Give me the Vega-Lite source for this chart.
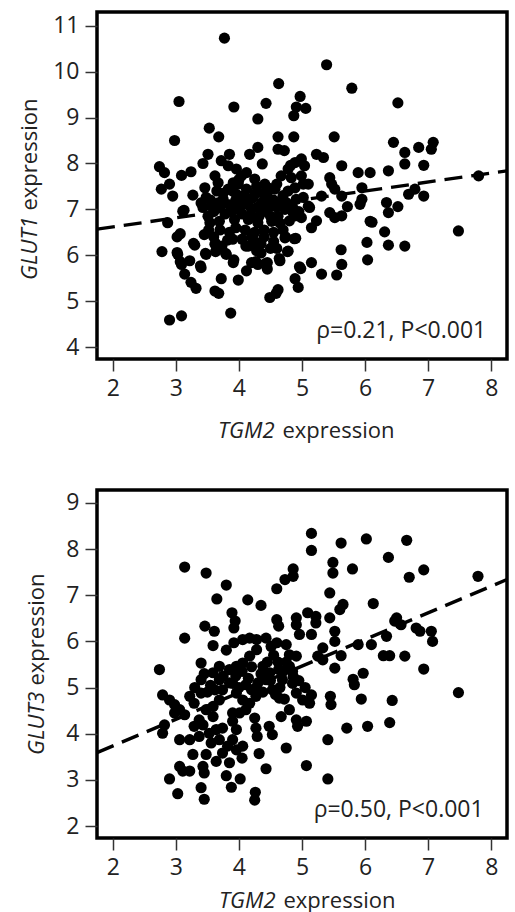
{
"$schema": "https://vega.github.io/schema/vega-lite/v6.json",
"padding": {"left": 16, "top": 10, "right": 8, "bottom": 0},
"spacing": 45,
"config": {
  "font": "Open Sans",
  "view": {"stroke": "black", "strokeWidth": 3.5},
  "axis": {"grid": false, "domain": false, "tickSize": 12, "tickWidth": 1.5, "tickColor": "#333", "labelFontSize": 23, "labelColor": "#222", "titleFontSize": 22, "titleFontWeight": "normal", "titleColor": "#222", "labelPadding": 6, "titleBaseline": "alphabetic"}
},
"datasets": {
"top": [
{"x":3.77,"y":10.73},{"x":5.39,"y":10.15},{"x":4.63,"y":9.74},{"x":5.79,"y":9.64},{"x":3.05,"y":9.35},{"x":6.52,"y":9.32},{"x":3.92,"y":9.23},{"x":4.43,"y":9.31},{"x":4.97,"y":9.46},{"x":4.91,"y":9.23},{"x":5.06,"y":9.2},{"x":4.87,"y":9.04},{"x":4.30,"y":8.97},{"x":3.53,"y":8.77},{"x":3.68,"y":8.58},{"x":2.98,"y":8.5},{"x":4.62,"y":8.58},{"x":4.87,"y":8.58},{"x":5.51,"y":8.58},{"x":6.45,"y":8.46},{"x":7.08,"y":8.46},{"x":6.85,"y":8.35},{"x":6.63,"y":8.24},{"x":7.05,"y":8.31},{"x":4.30,"y":8.35},{"x":4.62,"y":8.31},{"x":4.72,"y":8.28},{"x":3.85,"y":8.2},{"x":4.17,"y":8.2},{"x":5.23,"y":8.2},{"x":5.34,"y":8.13},{"x":3.51,"y":8.2},{"x":3.43,"y":8.0},{"x":3.72,"y":8.06},{"x":3.83,"y":7.95},{"x":3.96,"y":7.88},{"x":4.12,"y":7.8},{"x":4.37,"y":7.99},{"x":4.82,"y":7.96},{"x":4.99,"y":8.1},{"x":5.04,"y":7.95},{"x":5.63,"y":7.95},{"x":5.89,"y":7.8},{"x":6.08,"y":7.8},{"x":6.37,"y":7.84},{"x":6.63,"y":7.99},{"x":6.93,"y":7.96},{"x":2.74,"y":7.93},{"x":2.82,"y":7.8},{"x":3.09,"y":7.74},{"x":3.24,"y":7.82},{"x":2.77,"y":7.44},{"x":2.9,"y":7.55},{"x":2.95,"y":7.29},{"x":3.27,"y":7.31},{"x":3.11,"y":6.96},{"x":2.87,"y":6.71},{"x":7.8,"y":7.73},{"x":5.44,"y":7.69},{"x":5.47,"y":7.55},{"x":5.52,"y":7.44},{"x":5.31,"y":7.29},{"x":5.63,"y":7.29},{"x":5.95,"y":7.47},{"x":5.95,"y":7.22},{"x":6.34,"y":7.15},{"x":6.69,"y":7.33},{"x":6.79,"y":7.44},{"x":6.93,"y":7.29},{"x":6.37,"y":6.93},{"x":6.08,"y":6.74},{"x":6.31,"y":6.51},{"x":7.48,"y":6.53},{"x":2.9,"y":4.59},{"x":3.09,"y":4.68},{"x":3.87,"y":4.74},{"x":2.78,"y":6.08},{"x":3.03,"y":6.02},{"x":3.09,"y":5.8},{"x":3.22,"y":5.88},{"x":3.14,"y":5.59},{"x":3.24,"y":5.41},{"x":3.32,"y":5.28},{"x":3.4,"y":5.73},{"x":3.3,"y":6.22},{"x":3.48,"y":6.02},{"x":3.62,"y":6.24},{"x":3.72,"y":5.49},{"x":3.62,"y":5.22},{"x":3.68,"y":5.17},{"x":3.99,"y":5.46},{"x":4.12,"y":5.66},{"x":3.8,"y":6.02},{"x":3.91,"y":5.84},{"x":4.11,"y":6.2},{"x":4.2,"y":5.84},{"x":4.3,"y":5.8},{"x":4.45,"y":5.7},{"x":4.45,"y":5.84},{"x":4.49,"y":5.08},{"x":4.59,"y":5.17},{"x":4.62,"y":5.25},{"x":4.65,"y":5.88},{"x":4.78,"y":6.09},{"x":4.89,"y":5.49},{"x":4.94,"y":5.3},{"x":4.98,"y":5.71},{"x":5.15,"y":5.84},{"x":5.31,"y":5.59},{"x":5.55,"y":5.57},{"x":5.63,"y":5.8},{"x":5.62,"y":6.12},{"x":6.03,"y":6.28},{"x":6.04,"y":5.9},{"x":6.37,"y":6.22},{"x":6.63,"y":6.2},{"x":6.11,"y":6.72},{"x":6.52,"y":7.06},{"x":5.15,"y":6.6},{"x":5.23,"y":6.75},{"x":5.44,"y":6.93},{"x":5.52,"y":6.82},{"x":5.63,"y":6.86},{"x":5.72,"y":7.06},{"x":5.92,"y":7.11},{"x":4.73,"y":6.38},{"x":4.88,"y":6.36},{"x":5.12,"y":7.04},{"x":4.89,"y":6.86},{"x":4.99,"y":6.82},{"x":3.13,"y":6.98},{"x":3.07,"y":6.47},{"x":3.02,"y":6.4},{"x":3.28,"y":6.26},{"x":3.02,"y":6.06},{"x":3.07,"y":5.86},{"x":3.39,"y":5.77},{"x":3.47,"y":6.04},{"x":3.63,"y":6.26},{"x":3.63,"y":6.08},{"x":3.79,"y":6.04},{"x":3.82,"y":6.33},{"x":3.92,"y":5.9},{"x":4.27,"y":5.86},{"x":4.42,"y":5.82},{"x":4.64,"y":5.93},{"x":4.77,"y":6.08},{"x":4.74,"y":6.4},{"x":4.9,"y":6.37},{"x":4.96,"y":5.75},{"x":4.28,"y":6.1},{"x":4.35,"y":6.25},{"x":4.5,"y":6.15},{"x":4.55,"y":6.3},{"x":4.2,"y":6.4},
{"x":3.46,"y":7.47},{"x":3.48,"y":7.26},{"x":3.56,"y":7.07},{"x":3.43,"y":7.04},{"x":3.67,"y":7.14},{"x":3.75,"y":7.22},{"x":3.83,"y":7.44},{"x":3.91,"y":7.58},{"x":3.99,"y":7.55},{"x":3.96,"y":7.33},{"x":4.04,"y":7.14},{"x":4.12,"y":7.44},{"x":4.25,"y":7.33},{"x":4.2,"y":7.0},{"x":4.36,"y":7.14},{"x":4.41,"y":6.96},{"x":4.46,"y":7.26},{"x":4.57,"y":7.44},{"x":4.6,"y":7.55},{"x":4.78,"y":7.4},{"x":4.83,"y":7.69},{"x":4.89,"y":7.47},{"x":4.91,"y":7.22},{"x":5.02,"y":7.26},{"x":5.1,"y":7.55},{"x":5.1,"y":7.07},{"x":4.86,"y":6.93},{"x":4.73,"y":7.0},{"x":4.62,"y":6.85},{"x":4.52,"y":6.74},{"x":4.3,"y":6.71},{"x":4.15,"y":6.78},{"x":3.93,"y":6.78},{"x":3.69,"y":6.74},{"x":3.54,"y":6.71},{"x":3.51,"y":6.85},{"x":3.4,"y":7.14},{"x":3.62,"y":7.73},{"x":3.67,"y":7.58},{"x":4.04,"y":7.73},{"x":4.25,"y":7.66},{"x":4.41,"y":7.55},{"x":4.67,"y":7.73},{"x":4.78,"y":7.88},{"x":4.89,"y":8.02},{"x":4.99,"y":7.73},{"x":5.02,"y":7.55},{"x":4.67,"y":7.14},{"x":4.52,"y":7.07},
{"x":3.55,"y":7.2},{"x":3.6,"y":6.95},{"x":3.7,"y":7.05},{"x":3.78,"y":6.9},{"x":3.85,"y":7.1},{"x":3.88,"y":6.95},{"x":3.95,"y":7.2},{"x":3.98,"y":7.0},{"x":4.05,"y":6.9},{"x":4.08,"y":7.3},{"x":4.15,"y":7.15},{"x":4.18,"y":6.85},{"x":4.22,"y":7.25},{"x":4.3,"y":7.05},{"x":4.32,"y":6.85},{"x":4.38,"y":7.35},{"x":4.42,"y":7.2},{"x":4.48,"y":7.05},{"x":4.5,"y":6.85},{"x":4.55,"y":7.2},{"x":4.6,"y":7.05},{"x":4.65,"y":6.7},{"x":4.7,"y":7.3},{"x":4.75,"y":7.15},{"x":4.8,"y":6.75},{"x":4.85,"y":7.05},{"x":4.95,"y":6.95},{"x":3.75,"y":7.35},{"x":3.65,"y":7.4},{"x":3.9,"y":7.4},{"x":4.0,"y":7.65},{"x":4.28,"y":7.5},{"x":4.5,"y":7.45},{"x":3.52,"y":6.55},{"x":3.7,"y":6.55},{"x":3.85,"y":6.5},{"x":3.95,"y":6.6},{"x":4.1,"y":6.55},{"x":4.25,"y":6.5},{"x":4.4,"y":6.55},{"x":4.55,"y":6.5},{"x":4.7,"y":6.55},{"x":3.45,"y":6.45},{"x":3.6,"y":6.4},{"x":3.9,"y":6.35},{"x":4.05,"y":6.35},{"x":4.15,"y":6.2},{"x":4.35,"y":6.05},{"x":4.6,"y":6.15},{"x":4.4,"y":6.4},{"x":4.25,"y":6.3},{"x":3.73,"y":6.2}
],
"bottom": [
{"x":5.15,"y":8.34},{"x":5.15,"y":7.97},{"x":5.62,"y":8.13},{"x":6.02,"y":8.22},{"x":6.66,"y":8.19},{"x":6.37,"y":7.82},{"x":3.14,"y":7.61},{"x":3.48,"y":7.48},{"x":3.8,"y":7.22},{"x":5.49,"y":7.71},{"x":5.49,"y":7.48},{"x":5.8,"y":7.57},{"x":6.93,"y":7.55},{"x":6.7,"y":7.39},{"x":7.79,"y":7.41},{"x":4.86,"y":7.57},{"x":4.73,"y":7.34},{"x":4.86,"y":7.41},{"x":4.6,"y":7.14},{"x":5.44,"y":7.05},{"x":4.14,"y":6.9},{"x":4.35,"y":6.78},{"x":3.65,"y":6.92},{"x":3.89,"y":6.62},{"x":3.94,"y":6.44},{"x":3.92,"y":6.29},{"x":3.46,"y":6.33},{"x":3.61,"y":6.22},{"x":3.14,"y":6.07},{"x":3.59,"y":5.91},{"x":3.8,"y":5.81},{"x":3.92,"y":5.97},{"x":5.65,"y":6.8},{"x":5.6,"y":6.69},{"x":6.13,"y":6.82},{"x":4.6,"y":6.47},{"x":4.63,"y":6.33},{"x":4.91,"y":6.51},{"x":4.91,"y":6.36},{"x":5.09,"y":6.62},{"x":5.22,"y":6.54},{"x":5.22,"y":6.4},{"x":4.96,"y":6.15},{"x":5.15,"y":6.15},{"x":5.44,"y":6.51},{"x":5.52,"y":6.22},{"x":5.52,"y":6.0},{"x":6.5,"y":6.51},{"x":6.47,"y":6.44},{"x":6.57,"y":6.36},{"x":6.81,"y":6.29},{"x":6.87,"y":6.22},{"x":7.05,"y":6.22},{"x":7.07,"y":6.0},{"x":6.34,"y":6.11},{"x":6.1,"y":5.93},{"x":5.89,"y":5.93},{"x":6.29,"y":5.69},{"x":6.39,"y":5.69},{"x":6.63,"y":5.68},{"x":6.93,"y":5.4},{"x":5.62,"y":5.69},{"x":5.33,"y":5.86},{"x":5.25,"y":5.68},{"x":5.33,"y":5.6},{"x":5.52,"y":5.42},{"x":5.81,"y":5.18},{"x":5.97,"y":5.31},{"x":5.83,"y":5.06},{"x":4.06,"y":6.04},{"x":4.17,"y":6.07},{"x":4.28,"y":6.04},{"x":4.43,"y":6.07},{"x":4.51,"y":5.89},{"x":4.6,"y":5.97},{"x":4.75,"y":5.93},{"x":4.8,"y":5.71},{"x":4.91,"y":5.68},{"x":4.28,"y":5.82},{"x":4.17,"y":5.68},{"x":4.06,"y":5.53},{"x":3.96,"y":5.46},{"x":3.85,"y":5.39},{"x":3.69,"y":5.46},{"x":3.59,"y":5.32},{"x":3.4,"y":5.53},{"x":3.4,"y":5.17},{"x":2.74,"y":5.39},{"x":4.38,"y":5.46},{"x":4.49,"y":5.32},{"x":4.63,"y":5.39},{"x":4.8,"y":5.46},{"x":4.86,"y":5.24},
{"x":2.79,"y":4.84},{"x":2.9,"y":4.73},{"x":2.98,"y":4.63},{"x":3.06,"y":4.52},{"x":3.14,"y":4.41},{"x":2.82,"y":4.19},{"x":2.79,"y":4.01},{"x":2.98,"y":4.45},{"x":3.22,"y":4.81},{"x":3.29,"y":4.66},{"x":3.4,"y":4.88},{"x":3.48,"y":4.52},{"x":3.59,"y":4.37},{"x":3.43,"y":4.19},{"x":3.29,"y":4.16},{"x":3.06,"y":3.87},{"x":3.22,"y":3.87},{"x":3.37,"y":3.94},{"x":3.53,"y":4.01},{"x":3.37,"y":4.3},{"x":3.56,"y":3.8},{"x":3.27,"y":3.55},{"x":3.48,"y":3.55},{"x":3.64,"y":3.4},{"x":3.74,"y":3.58},{"x":3.85,"y":3.37},{"x":3.43,"y":3.29},{"x":3.06,"y":3.29},{"x":3.11,"y":3.19},{"x":3.22,"y":3.19},{"x":3.45,"y":3.15},{"x":2.9,"y":3.02},{"x":3.03,"y":2.7},{"x":3.4,"y":2.83},{"x":3.45,"y":2.58},{"x":3.8,"y":3.09},{"x":4.02,"y":3.02},{"x":3.88,"y":2.84},{"x":4.26,"y":2.73},{"x":4.25,"y":2.56},{"x":4.43,"y":3.24},{"x":4.32,"y":3.57},{"x":4.05,"y":3.47},{"x":4.75,"y":3.69},{"x":5.07,"y":3.31},{"x":5.41,"y":3.02},{"x":5.41,"y":3.87},{"x":5.71,"y":4.12},{"x":6.04,"y":4.16},{"x":6.39,"y":4.24},{"x":6.43,"y":4.72},{"x":5.94,"y":4.75},{"x":7.48,"y":4.89},{"x":5.45,"y":4.81},{"x":5.46,"y":4.63},{"x":5.12,"y":4.66},{"x":5.15,"y":4.84},{"x":5.07,"y":4.27},{"x":4.93,"y":4.16},{"x":4.91,"y":4.3},{"x":4.8,"y":4.52},{"x":4.64,"y":4.77},{"x":4.67,"y":4.37},{"x":4.48,"y":4.16},{"x":4.53,"y":3.98},{"x":4.29,"y":3.94},{"x":4.27,"y":4.12},{"x":4.25,"y":4.34},{"x":4.11,"y":4.52},{"x":4.01,"y":4.45},{"x":3.9,"y":4.45},{"x":3.9,"y":4.27},{"x":3.96,"y":4.09},{"x":3.9,"y":3.87},{"x":3.82,"y":3.73},{"x":3.96,"y":3.65},{"x":4.06,"y":3.73},{"x":3.69,"y":5.17},{"x":3.74,"y":4.95},{"x":3.9,"y":5.09},{"x":3.96,"y":4.88},{"x":4.11,"y":5.06},{"x":4.27,"y":4.99},{"x":4.27,"y":4.81},{"x":4.43,"y":5.17},{"x":4.53,"y":4.95},{"x":4.69,"y":5.17},{"x":4.85,"y":5.09},{"x":4.91,"y":4.88},{"x":5.01,"y":4.73},{"x":4.06,"y":4.73},{"x":4.17,"y":4.66},{"x":3.69,"y":4.73},{"x":3.59,"y":4.59},{"x":3.64,"y":4.09},{"x":3.74,"y":4.12},{"x":3.69,"y":3.87},
{"x":3.55,"y":5.05},{"x":3.75,"y":5.25},{"x":3.85,"y":5.1},{"x":3.95,"y":5.25},{"x":4.05,"y":5.35},{"x":4.15,"y":5.2},{"x":4.2,"y":5.45},{"x":4.35,"y":5.3},{"x":4.45,"y":5.55},{"x":4.55,"y":5.7},{"x":4.62,"y":5.55},{"x":4.7,"y":5.35},{"x":4.75,"y":5.55},{"x":4.85,"y":5.35},{"x":4.95,"y":5.15},{"x":5.05,"y":5.0},{"x":4.3,"y":5.1},{"x":4.5,"y":5.15},{"x":4.65,"y":5.0},{"x":3.45,"y":5.3},{"x":3.3,"y":5.0},{"x":3.5,"y":4.9},{"x":3.62,"y":4.95},{"x":4.0,"y":5.0},{"x":4.2,"y":4.95},{"x":4.38,"y":4.9},{"x":4.58,"y":4.85},{"x":4.72,"y":4.75}
],
"topLine": [{"x":1.75,"y":6.57},{"x":8.25,"y":7.84}],
"bottomLine": [{"x":1.75,"y":3.59},{"x":8.25,"y":7.34}],
"topText": [{"x":7.92,"y":4.19,"label":"ρ=0.21, P<0.001"}],
"bottomText": [{"x":7.88,"y":2.2,"label":"ρ=0.50, P<0.001"}]
},
"vconcat": [
{
 "width": 410, "height": 347,
 "resolve": {"axis": {"x": "independent", "y": "independent"}},
 "layer": [
  {"data": {"name": "top"}, "mark": {"type": "circle", "size": 125, "color": "black", "opacity": 1},
   "encoding": {
    "x": {"field": "x", "type": "quantitative", "scale": {"domain": [1.75, 8.25], "nice": false, "zero": false}, "axis": {"orient": "bottom", "values": [2,3,4,5,6,7,8], "format": "d", "title": "TGM2", "titleFontStyle": "italic", "titleAlign": "right", "titleX": 177, "titleY": 78}},
    "y": {"field": "y", "type": "quantitative", "scale": {"domain": [3.74, 11.3], "nice": false, "zero": false}, "axis": {"orient": "left", "values": [4,5,6,7,8,9,10,11], "format": "d", "title": "GLUT1", "titleFontStyle": "italic", "titleAlign": "right", "titleX": -61, "titleY": 204}}
   }},
  {"data": {"name": "topLine"}, "mark": {"type": "line", "color": "black", "strokeWidth": 3.3, "strokeDash": [18, 9], "clip": true},
   "encoding": {
    "x": {"field": "x", "type": "quantitative", "axis": {"orient": "bottom", "title": "expression", "labels": false, "ticks": false, "titleAlign": "left", "titleX": 185, "titleY": 78}},
    "y": {"field": "y", "type": "quantitative", "axis": {"orient": "left", "title": "expression", "labels": false, "ticks": false, "titleAlign": "left", "titleX": -61, "titleY": 198}}}},
  {"data": {"name": "topText"}, "mark": {"type": "text", "align": "right", "baseline": "alphabetic", "fontSize": 23, "color": "#222"},
   "encoding": {"x": {"field": "x", "type": "quantitative", "axis": null}, "y": {"field": "y", "type": "quantitative", "axis": null}, "text": {"field": "label"}}}
 ]
},
{
 "width": 410, "height": 348,
 "resolve": {"axis": {"x": "independent", "y": "independent"}},
 "layer": [
  {"data": {"name": "bottom"}, "mark": {"type": "circle", "size": 125, "color": "black", "opacity": 1},
   "encoding": {
    "x": {"field": "x", "type": "quantitative", "scale": {"domain": [1.75, 8.25], "nice": false, "zero": false}, "axis": {"orient": "bottom", "values": [2,3,4,5,6,7,8], "format": "d", "title": "TGM2", "titleFontStyle": "italic", "titleAlign": "right", "titleX": 178, "titleY": 69}},
    "y": {"field": "y", "type": "quantitative", "scale": {"domain": [1.74, 9.28], "nice": false, "zero": false}, "axis": {"orient": "left", "values": [2,3,4,5,6,7,8,9], "format": "d", "title": "GLUT3", "titleFontStyle": "italic", "titleAlign": "right", "titleX": -54, "titleY": 201}}
   }},
  {"data": {"name": "bottomLine"}, "mark": {"type": "line", "color": "black", "strokeWidth": 3.3, "strokeDash": [18, 9], "clip": true},
   "encoding": {
    "x": {"field": "x", "type": "quantitative", "axis": {"orient": "bottom", "title": "expression", "labels": false, "ticks": false, "titleAlign": "left", "titleX": 186, "titleY": 69}},
    "y": {"field": "y", "type": "quantitative", "axis": {"orient": "left", "title": "expression", "labels": false, "ticks": false, "titleAlign": "left", "titleX": -54, "titleY": 195}}}},
  {"data": {"name": "bottomText"}, "mark": {"type": "text", "align": "right", "baseline": "alphabetic", "fontSize": 23, "color": "#222"},
   "encoding": {"x": {"field": "x", "type": "quantitative", "axis": null}, "y": {"field": "y", "type": "quantitative", "axis": null}, "text": {"field": "label"}}}
 ]
}
]
}
